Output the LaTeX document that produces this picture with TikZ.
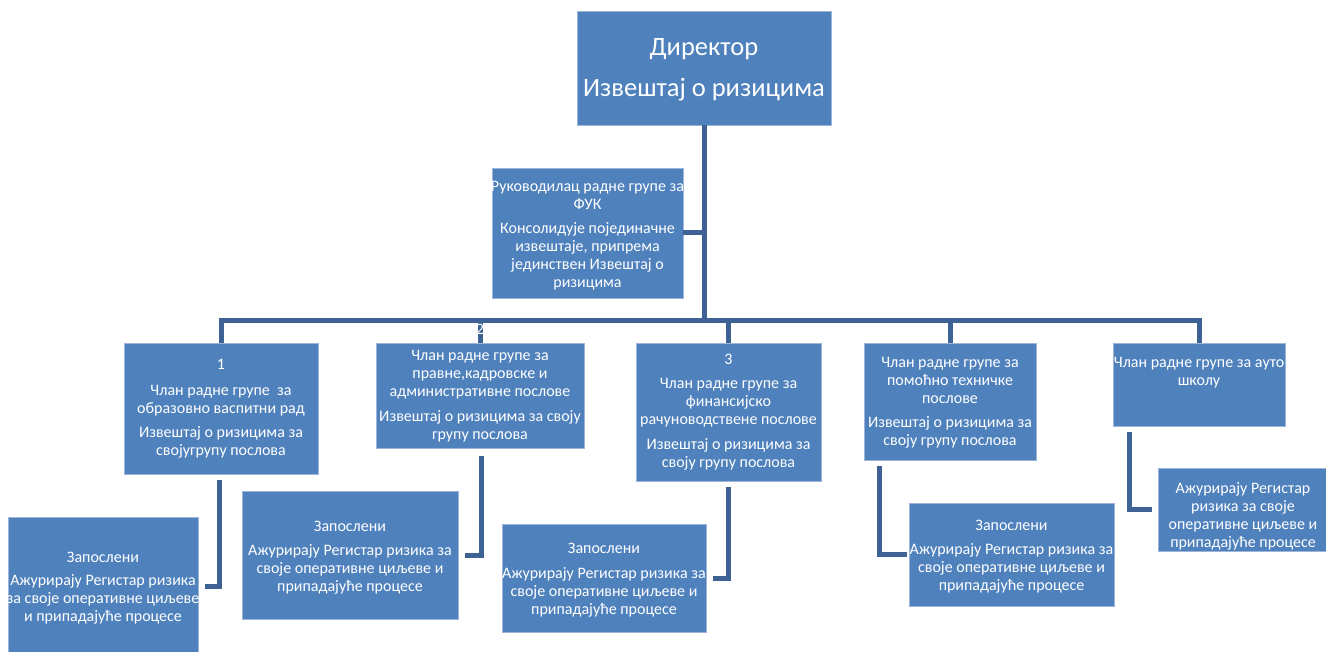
\documentclass[tikz,border=0pt]{standalone}
\usepackage{fontspec}
\setmainfont{Carlito}
\definecolor{boxblue}{HTML}{4F81BD}
\definecolor{boxedge}{HTML}{9DB5D8}
\definecolor{connblue}{HTML}{3E6294}
\begin{document}
\begin{tikzpicture}[x=1pt,y=-1pt,
  box/.style={rectangle, fill=boxblue, draw=boxedge, line width=0.8pt, inner sep=0pt},
  txt/.style={anchor=north, align=center, text=white, inner sep=0pt, font=\fontsize{16}{18}\selectfont},
  conn/.style={draw=connblue, line width=5pt}]
\useasboundingbox (0,0) rectangle (1326,652);
\fill[white] (0,0) rectangle (1326,652);
% boxes
\node[box, minimum width=254pt, minimum height=114pt] (dir) at (704,68) {};
\node[box, minimum width=191pt, minimum height=130pt] (fuk) at (587.5,233) {};
\node[box, minimum width=194pt, minimum height=131pt] (b1) at (221,408.5) {};
\node[box, minimum width=208pt, minimum height=105pt] (b2) at (480,395.5) {};
\node[box, minimum width=185pt, minimum height=138pt] (b3) at (728.5,412) {};
\node[box, minimum width=172pt, minimum height=117pt] (b4) at (950,401.5) {};
\node[box, minimum width=172pt, minimum height=83pt] (b5) at (1199,384.5) {};
\node[box, minimum width=190pt, minimum height=138pt] (e1) at (103,586) {};
\node[box, minimum width=216pt, minimum height=128pt] (e2) at (350,555) {};
\node[box, minimum width=204pt, minimum height=108pt] (e3) at (604,578) {};
\node[box, minimum width=205pt, minimum height=103pt] (e4) at (1011.5,554.5) {};
\node[box, minimum width=170pt, minimum height=83pt] (e5) at (1243,509.5) {};
% connectors
\coordinate (bus) at (704,321);
\draw[conn] (dir.south) -- (dir.south |- bus);
\draw[conn] (fuk.east) -- (fuk.east -| dir.south);
\draw[conn] (b1.north) |- (bus) -| (b5.north);
\draw[conn] (b2.north) -- (b2.north |- bus);
\draw[conn] (b3.north) -- (b3.north |- bus);
\draw[conn] (b4.north) -- (b4.north |- bus);
\draw[conn, shorten <=6pt, shorten >=7pt] ([xshift=-2pt]b1.south) |- (e1.east);
\draw[conn, shorten <=8pt, shorten >=7pt] ([xshift=1pt]b2.south) |- (e2.east);
\draw[conn, shorten <=6pt, shorten >=7pt] (b3.south) |- (e3.east);
\coordinate (c4) at ([xshift=16pt]b4.south west);
\draw[conn, shorten <=6pt, shorten >=2pt] (c4) |- (e4.west);
\coordinate (c5) at ([xshift=17pt]b5.south west);
\draw[conn, shorten <=6pt, shorten >=6pt] (c5) |- (e5.west);
% texts
\node[txt, font=\fontsize{26.5}{30}\selectfont] (tdir) at (704,38) {Директор\\[11pt]Извештај о ризицима};
\node[txt] (tfuk) at (587.5,181) {Руководилац радне групе за\\ФУК\\[6pt]Консолидује појединачне\\извештаје, припрема\\јединствен Извештај о\\ризицима};
\node[txt] (t1) at (221,359) {1\\[8pt]Члан радне групе\ \ за\\образовно васпитни рад\\[6pt]Извештај о ризицима за\\својугрупу послова};
\node[txt] (t2n) at (480,324) {2};
\node[txt] (t2) at (480,350) {Члан радне групе за\\правне,кадровске и\\административне послове\\[7pt]Извештај о ризицима за своју\\групу послова};
\node[txt] (t3) at (728.5,354) {3\\[6pt]Члан радне групе за\\финансијско\\рачуноводствене послове\\[7pt]Извештај о ризицима за\\своју групу послова};
\node[txt] (t4) at (950,357) {Члан радне групе за\\помоћно техничке\\послове\\[6pt]Извештај о ризицима за\\своју групу послова};
\node[txt] (t5) at (1199,357) {Члан радне групе за ауто\\школу};
\node[txt] (te1) at (103,552) {Запослени\\[5pt]Ажурирају Регистар ризика\\за своје оперативне циљеве\\и припадајуће процесе};
\node[txt] (te2) at (350,521) {Запослени\\[6pt]Ажурирају Регистар ризика за\\своје оперативне циљеве и\\припадајуће процесе};
\node[txt] (te3) at (604,543) {Запослени\\[7pt]Ажурирају Регистар ризика за\\своје оперативне циљеве и\\припадајуће процесе};
\node[txt] (te4) at (1011.5,520) {Запослени\\[6pt]Ажурирају Регистар ризика за\\своје оперативне циљеве и\\припадајуће процесе};
\node[txt] (te5) at (1243,482) {Ажурирају Регистар\\ризика за своје\\оперативне циљеве и\\припадајуће процесе};
\end{tikzpicture}
\end{document}
